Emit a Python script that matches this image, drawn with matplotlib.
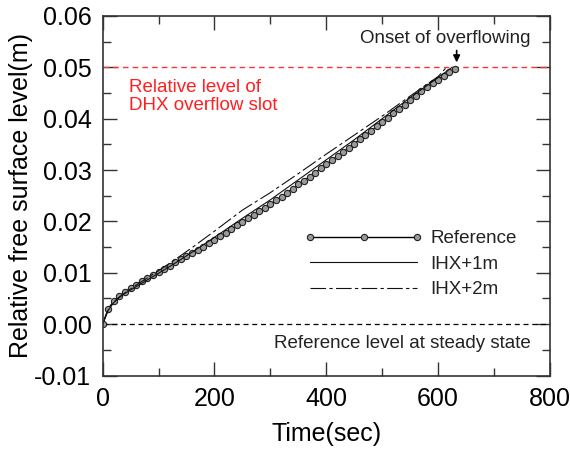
import numpy as np
import matplotlib
matplotlib.use('Agg')
import matplotlib.pyplot as plt

plt.rcParams['font.family'] = ['Liberation Sans', 'DejaVu Sans']

# Reference case, one marker every 10 s
t_ref = np.arange(0, 640, 10)
h_ref = [0.0000, 0.0030, 0.0045, 0.0055, 0.0063, 0.0070, 0.0077, 0.0084, 0.0090, 0.0096,
         0.0102, 0.0108, 0.0114, 0.0120, 0.0126, 0.0132, 0.0138, 0.0144, 0.0150, 0.0157,
         0.0164, 0.0171, 0.0178, 0.0185, 0.0192, 0.0199, 0.0206, 0.0213, 0.0220, 0.0227,
         0.0234, 0.0241, 0.0248, 0.0256, 0.0264, 0.0272, 0.0279, 0.0287, 0.0295, 0.0303,
         0.0311, 0.0319, 0.0327, 0.0335, 0.0343, 0.0351, 0.0360, 0.0368, 0.0376, 0.0385,
         0.0393, 0.0402, 0.0410, 0.0419, 0.0427, 0.0436, 0.0444, 0.0453, 0.0461, 0.0469,
         0.0476, 0.0483, 0.0490, 0.0497]

# IHX elevated cases
t_ihx1 = [0, 10, 20, 30, 40, 60, 80, 100, 130, 160, 200, 250, 300, 350, 400, 450, 500, 550, 600, 625]
h_ihx1 = [0.0, 0.0027, 0.0042, 0.0052, 0.0060, 0.0073, 0.0086, 0.0099, 0.0119, 0.0140,
          0.0169, 0.0206, 0.0242, 0.0281, 0.0320, 0.0359, 0.0400, 0.0441, 0.0480, 0.0500]
t_ihx2 = [0, 10, 20, 30, 40, 60, 80, 100, 130, 160, 200, 250, 300, 350, 400, 450, 500, 550, 600, 615]
h_ihx2 = [0.0, 0.0028, 0.0043, 0.0053, 0.0061, 0.0076, 0.0090, 0.0104, 0.0126, 0.0149,
          0.0181, 0.0222, 0.0256, 0.0293, 0.0331, 0.0368, 0.0405, 0.0444, 0.0482, 0.0500]

fig = plt.figure(figsize=(5.7, 4.53), dpi=100)
ax = fig.add_axes([0.180, 0.171, 0.785, 0.794])

ax.axhline(0.05, color='#ff3333', lw=1.0, dashes=(4, 3))
ax.axhline(0.0, color='black', lw=0.9, dashes=(4, 3))

ax.plot(t_ref, h_ref, '-o', color='black', lw=1.0, ms=4.5, mfc='#9a9a9a', mec='#222222',
        mew=0.8, label='Reference')
ax.plot(t_ihx1, h_ihx1, '-', color='#111111', lw=0.8, label='IHX+1m')
ax.plot(t_ihx2, h_ihx2, color='#111111', lw=0.8, dashes=(14, 3, 3, 3), label='IHX+2m')

ax.set_xlim(0, 800)
ax.set_ylim(-0.01, 0.06)
ax.set_xticks([0, 200, 400, 600, 800])
ax.set_xticks(np.arange(100, 800, 200), minor=True)
ax.set_yticks(np.arange(-0.01, 0.0601, 0.01))
ax.set_yticks(np.arange(-0.005, 0.06, 0.01), minor=True)
ax.set_yticklabels(['-0.01', '0.00', '0.01', '0.02', '0.03', '0.04', '0.05', '0.06'])
ax.tick_params(which='both', direction='in', top=True, right=True, labelsize=18,
               color='#333333', width=1.0)
ax.tick_params(which='major', length=10, pad=8)
ax.tick_params(which='minor', length=6)
for s in ax.spines.values():
    s.set_color('#333333')
    s.set_linewidth(1.2)

ax.set_xlabel('Time(sec)', fontsize=18, labelpad=8)
ax.set_ylabel('Relative free surface level(m)', fontsize=18, labelpad=1)

ax.text(612, 0.0556, 'Onset of overflowing', fontsize=13.5, color='#222222',
        ha='center', va='center')
ax.annotate('', xy=(633, 0.0504), xytext=(633, 0.0538),
            arrowprops=dict(arrowstyle='-|>', color='black', lw=1.2, mutation_scale=10))
ax.text(48, 0.0478, 'Relative level of\nDHX overflow slot', fontsize=13.5, color='#ff2020',
        ha='left', va='top', linespacing=1.15)
ax.text(765, -0.0037, 'Reference level at steady state', fontsize=13.5, color='#222222',
        ha='right', va='center')

ax.legend(loc='upper left', bbox_to_anchor=(0.431, 0.430), frameon=False, fontsize=13.5,
          numpoints=3, handlelength=6.3, handletextpad=0.4, labelspacing=0.45,
          labelcolor='#222222', borderpad=0)

fig.savefig('out.png', dpi=100)
